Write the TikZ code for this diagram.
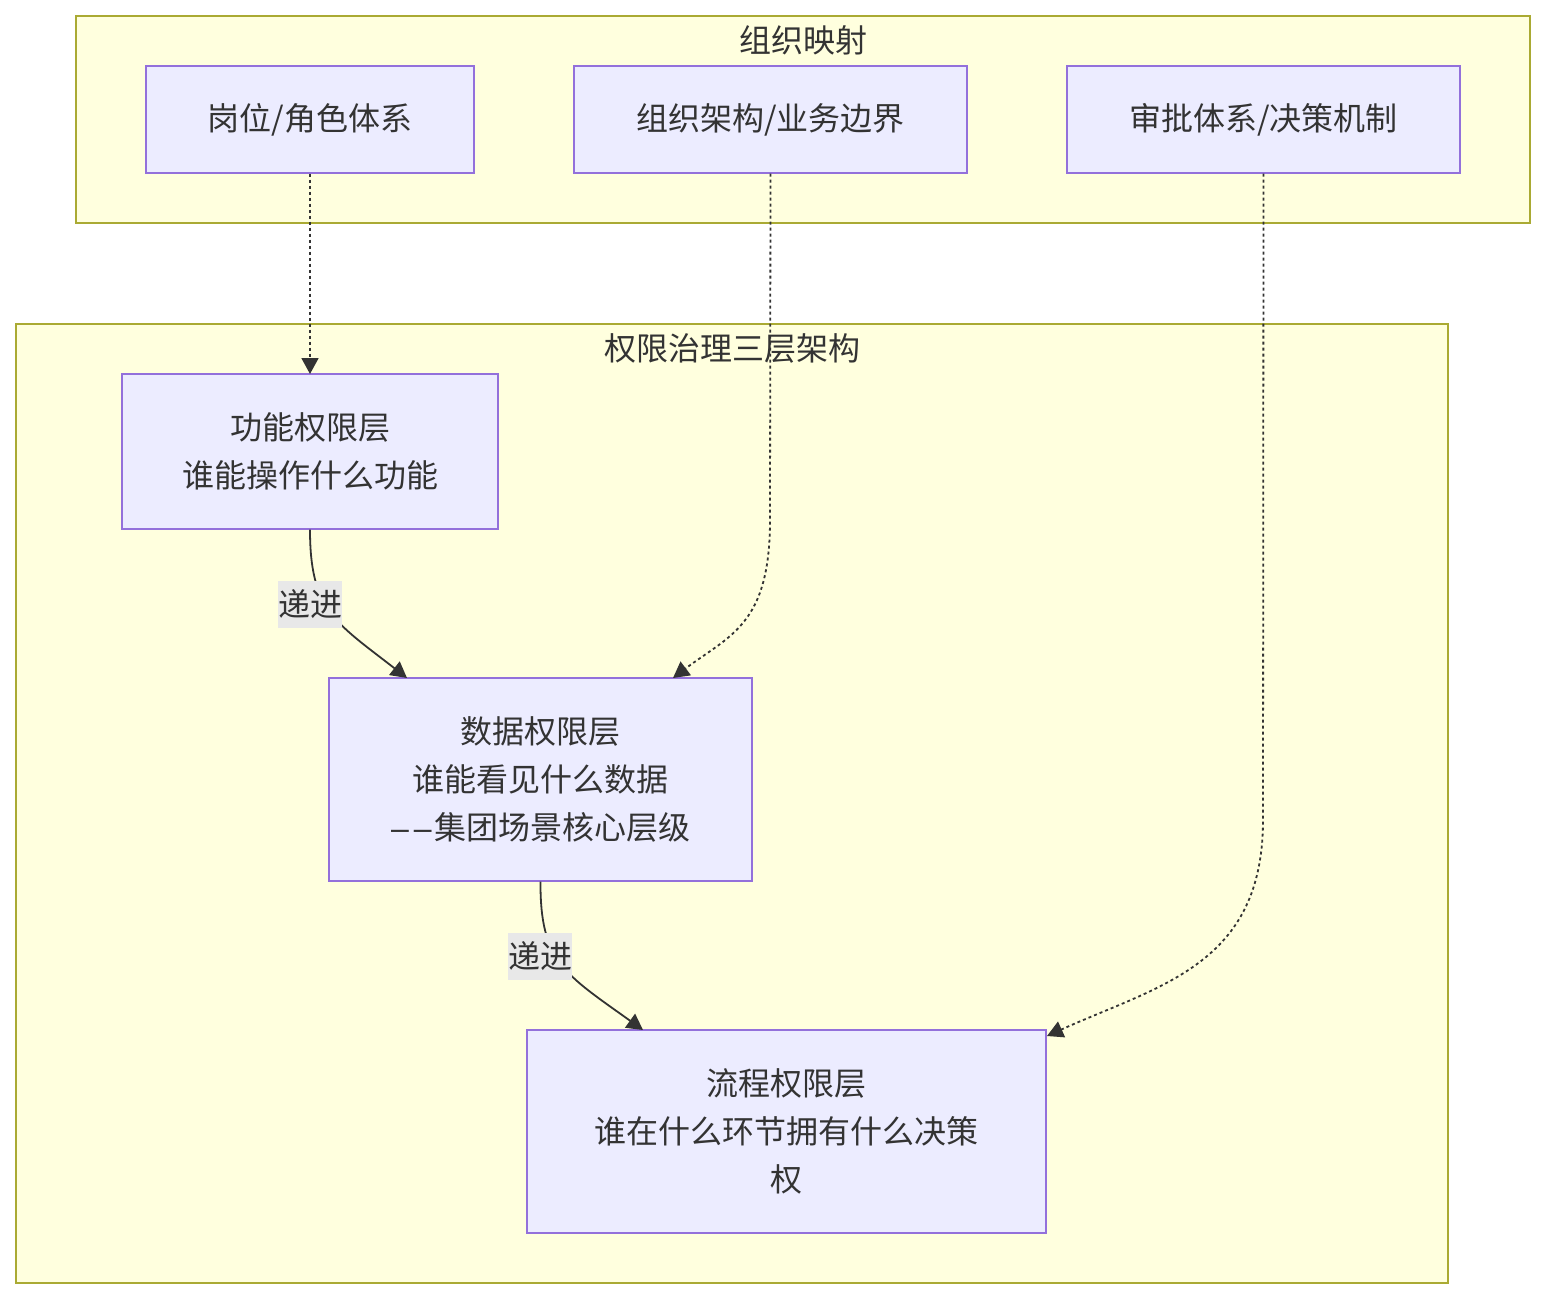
\documentclass[tikz,border=0pt]{standalone}
\usepackage{fontspec}
\setmainfont{Noto Sans CJK SC}
\newfontfamily\latinfont{Liberation Sans}
\usetikzlibrary{arrows.meta}
\definecolor{grpfill}{HTML}{FFFFDE}
\definecolor{grpdraw}{HTML}{AAAA33}
\definecolor{nodefill}{HTML}{ECECFF}
\definecolor{nodedraw}{HTML}{9370DB}
\definecolor{txt}{HTML}{333333}
\definecolor{lblfill}{HTML}{E8E8E8}
\tikzset{
  grp/.style={draw=grpdraw, fill=grpfill, line width=1.2pt},
  box/.style={draw=nodedraw, fill=nodefill, line width=1.2pt, align=center, text=txt,
    font=\fontsize{32}{48}\selectfont, inner sep=0pt},
  title/.style={text=txt, font=\fontsize{32}{36}\selectfont, inner sep=0pt},
  lbl/.style={fill=lblfill, text=txt, font=\fontsize{32}{36}\selectfont, inner xsep=0pt, inner ysep=0pt, minimum height=47pt, minimum width=64pt},
  solidarrow/.style={draw=txt, line width=1.8pt, -{Triangle[length=16pt,width=17pt]}},
  dotarrow/.style={draw=txt, line width=1.8pt, dash pattern=on 3pt off 3pt, -{Triangle[length=16pt,width=17pt]}},
}
\begin{document}
\begin{tikzpicture}[x=1pt,y=-1pt]
\useasboundingbox (0,0) rectangle (1545,1300);
% groups
\draw[grp] (76,16) rectangle (1530,223);
\node[title] (t1) at (803,40) {组织映射};
\draw[grp] (16,324) rectangle (1448,1283);
\node[title] (t2) at (732,348) {权限治理三层架构};
% top nodes
\node[box, minimum width=328pt, minimum height=107pt] (gw) at (310,119.5) {岗位/角色体系};
\node[box, minimum width=393pt, minimum height=107pt] (zz) at (770.5,119.5) {组织架构/业务边界};
\node[box, minimum width=393pt, minimum height=107pt] (sp) at (1263.5,119.5) {审批体系/决策机制};
% layer nodes
\node[box, minimum width=376pt, minimum height=155pt] (gn) at (310,451.5) {功能权限层\\谁能操作什么功能};
\node[box, minimum width=423pt, minimum height=203pt] (sj) at (540.5,779.5) {数据权限层\\谁能看见什么数据\\{\latinfont\kern1pt–\kern5pt–\kern3pt}集团场景核心层级};
\node[box, minimum width=519pt, minimum height=203pt] (lc) at (786.5,1131.5) {流程权限层\\谁在什么环节拥有什么决策\\权};
% coordinates
\coordinate (gnT) at (310,374);
\coordinate (sjT1) at (407,678);
\coordinate (sjT2) at (673,678);
\coordinate (lcT1) at (643,1030);
\coordinate (lcT2) at (1047,1036);
% solid edges
\draw[solidarrow] (gn.south) .. controls (310,610) and (335,622) .. (sjT1);
\draw[solidarrow] (sj.south) .. controls (540,962) and (565,974) .. (lcT1);
\node[lbl] (l1) at (310,604) {递进};
\node[lbl] (l2) at (540,956) {递进};
% dotted edges
\draw[dotarrow] (gw.south) -- (gnT);
\draw[dotarrow] (zz.south) -- (770,520) .. controls (770,625) and (730,635) .. (sjT2);
\draw[dotarrow] (sp.south) -- (1263,820) .. controls (1263,965) and (1160,985) .. (lcT2);
\end{tikzpicture}
\end{document}
